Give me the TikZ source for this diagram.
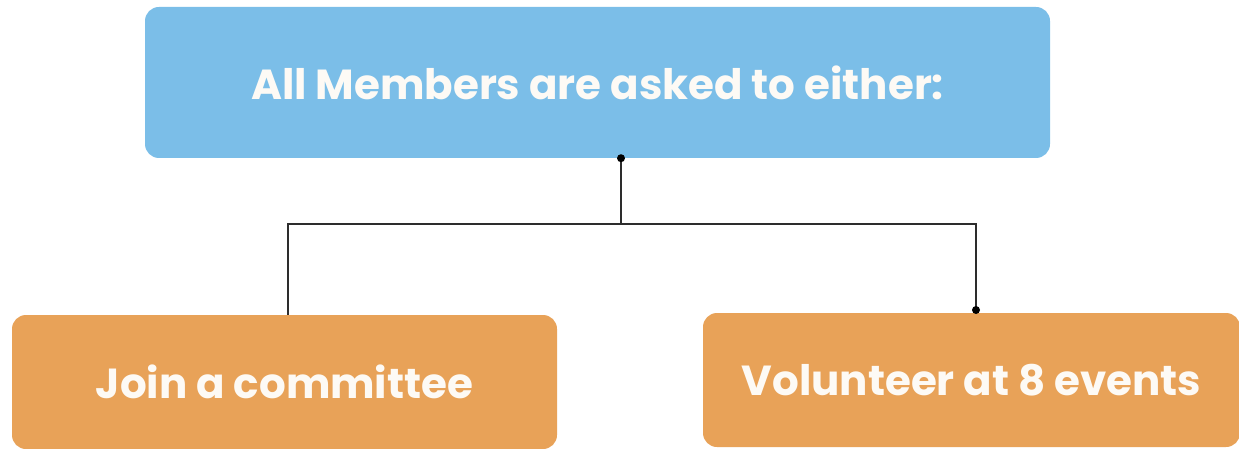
\documentclass[tikz,border=0pt]{standalone}
\usepackage{fontspec}
\setmainfont{Poppins}
\usetikzlibrary{calc}
\definecolor{boxblue}{RGB}{123,190,232}
\definecolor{boxorange}{RGB}{232,162,88}
\definecolor{linegray}{RGB}{45,45,45}
\definecolor{txtwhite}{RGB}{253,250,245}
\tikzset{
  card/.style={rounded corners=14pt, inner sep=0pt, text=txtwhite, font=\fontsize{42}{46}\selectfont\bfseries},
  conn/.style={draw=linegray, line width=1.8pt},
  jdot/.style={fill=black, circle, inner sep=0pt, minimum size=8pt}
}
\begin{document}
\begin{tikzpicture}[x=1pt,y=-1pt]
\useasboundingbox (0,0) rectangle (1239,449);
\node[card, fill=boxblue, minimum width=905pt, minimum height=151pt] (top) at (597.5,82.5) {All Members are asked to either:};
\node[card, fill=boxorange, minimum width=545pt, minimum height=134pt] (left) at (284.5,382) {Join a committee};
\node[card, fill=boxorange, minimum width=537pt, minimum height=134pt] (right) at (971.5,380) {Volunteer at 8 events};
\coordinate (jt) at (621,224);
\coordinate (rt) at (976,310);
\draw[conn] (top.south -| jt) -- (jt) -| ([xshift=3.5pt]left.north);
\draw[conn] (jt) -| (rt);
\node[jdot] (d1) at (top.south -| jt) {};
\node[jdot] (d2) at (rt) {};
\end{tikzpicture}
\end{document}
